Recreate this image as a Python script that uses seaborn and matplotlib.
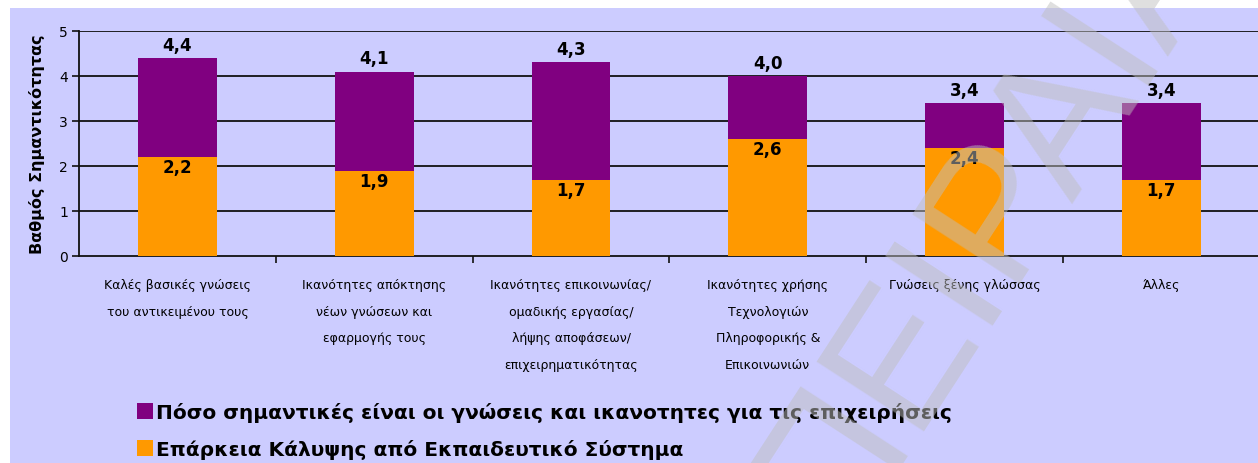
import matplotlib
matplotlib.use("Agg")
import matplotlib.pyplot as plt
from matplotlib.patches import Rectangle, Patch
import seaborn as sns
import pandas as pd

# ---- data ----
categories = [
    "Καλές βασικές γνώσεις\nτου αντικειμένου τους",
    "Ικανότητες απόκτησης\nνέων γνώσεων και\nεφαρμογής τους",
    "Ικανότητες επικοινωνίας/\nομαδικής εργασίας/\nλήψης αποφάσεων/\nεπιχειρηματικότητας",
    "Ικανότητες χρήσης\nΤεχνολογιών\nΠληροφορικής &\nΕπικοινωνιών",
    "Γνώσεις ξένης γλώσσας",
    "Άλλες",
]
importance = [4.4, 4.1, 4.3, 4.0, 3.4, 3.4]
coverage = [2.2, 1.9, 1.7, 2.6, 2.4, 1.7]
series_names = [
    "Πόσο σημαντικές είναι οι γνώσεις και ικανοτητες για τις επιχειρήσεις",
    "Επάρκεια Κάλυψης από Εκπαιδευτικό Σύστημα",
]
y_label = "Βαθμός Σημαντικότητας"
y_ticks = [0, 1, 2, 3, 4, 5]
watermark = "ΠΕΙΡΑΙΑ"

PURPLE = "#800080"
ORANGE = "#FF9900"
LAVENDER = "#CCCCFF"
INK = "#000000"

sns.set_style("white")
plt.rcParams["font.family"] = ["DejaVu Sans"]
plt.rcParams.update({"text.color": INK, "axes.labelcolor": INK,
                     "xtick.color": INK, "ytick.color": INK})

W, H = 1258, 464
fig = plt.figure(figsize=(W / 100, H / 100), dpi=100, facecolor="white")
fig.patches.append(Rectangle((10 / W, 0), 1, (H - 9) / H, transform=fig.transFigure,
                             facecolor=LAVENDER, edgecolor="none", zorder=-10))

ax = fig.add_axes([79 / W, 207 / H, 6 * 196.8 / W, 225 / H])
ax.set_facecolor(LAVENDER)

df = pd.DataFrame({"cat": categories, "imp": importance, "cov": coverage})
sns.barplot(data=df, x="cat", y="imp", color=PURPLE, saturation=1, width=0.4,
            linewidth=0, ax=ax, zorder=3)
sns.barplot(data=df, x="cat", y="cov", color=ORANGE, saturation=1, width=0.4,
            linewidth=0, ax=ax, zorder=4)

ax.set_xlim(-0.5, len(categories) - 0.5)
ax.set_ylim(0, 5)
ax.set_yticks(y_ticks)
ax.set_xlabel("")
ax.set_ylabel("")
for y in y_ticks[1:]:
    ax.axhline(y, color="#111111", lw=1.3, zorder=1)

for s in ["top", "right"]:
    ax.spines[s].set_visible(False)
for s in ["left", "bottom"]:
    ax.spines[s].set_color("#111111")
    ax.spines[s].set_linewidth(1.3)

ax.set_xticks(range(len(categories)))
ax.set_xticklabels(categories, fontsize=9, linespacing=2.35, color=INK)
ax.set_xticks([i + 0.5 for i in range(len(categories) - 1)], minor=True)
ax.tick_params(axis="x", which="major", length=0, pad=16)
ax.tick_params(axis="x", which="minor", length=5, width=1.2, color="#111111", bottom=True)
ax.tick_params(axis="y", length=5, width=1.2, color="#111111", labelsize=10, pad=3,
               left=True, labelcolor=INK)

for i, (a, c) in enumerate(zip(importance, coverage)):
    ax.annotate(f"{a:.1f}".replace(".", ","), (i, a), xytext=(0, 3), textcoords="offset points",
                ha="center", va="bottom", fontsize=12, fontweight="bold", color=INK, zorder=6)
    ax.annotate(f"{c:.1f}".replace(".", ","), (i, c), xytext=(0, -1), textcoords="offset points",
                ha="center", va="top", fontsize=12, fontweight="bold", color=INK, zorder=6)

fig.text(37 / W, 1 - 144 / H, y_label, rotation=90, ha="center", va="center",
         fontsize=11.5, fontweight="bold", color=INK)

handles = [Patch(facecolor=PURPLE, edgecolor="none"), Patch(facecolor=ORANGE, edgecolor="none")]
leg = fig.legend(handles, series_names, loc="upper left", bbox_to_anchor=(129 / W, 1 - 395 / H),
                 frameon=False, handlelength=0.8, handleheight=0.8, handletextpad=0.15,
                 labelspacing=0.85, borderaxespad=0, prop={"size": 14.5, "weight": "bold"})
for t in leg.get_texts():
    t.set_color(INK)

fig.text(992 / W, 1 - 215 / H, watermark, rotation=57, rotation_mode="anchor",
         ha="center", va="center", fontsize=134, fontweight="normal",
         family=["Liberation Sans", "DejaVu Sans"],
         color=(0.75, 0.75, 0.75), alpha=0.5, zorder=100)

fig.savefig("out.png", dpi=100, facecolor="white")
